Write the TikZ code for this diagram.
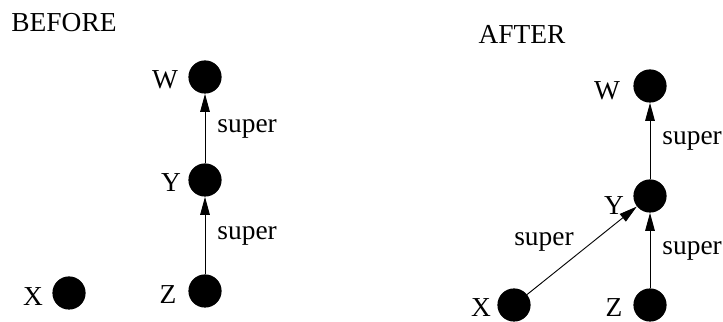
\documentclass[tikz,border=0pt]{standalone}
\usepackage{fontspec}
\setmainfont{Liberation Serif}
\usetikzlibrary{arrows.meta}
\tikzset{
	obj/.style={circle, fill=black, inner sep=0pt, minimum size=8.3mm},
	lbl/.style={inner sep=0pt, font=\fontsize{19.5}{23}\selectfont},
	sup/.style={-{Triangle[length=4.5mm,width=2.4mm]}, line width=0.65pt}
}
\begin{document}
\begin{tikzpicture} [x=0.25mm, y=-0.25mm]
	\useasboundingbox (0,0) rectangle (723,322);
	%%% Titoli
	\node[lbl] (before) at (64,23) {BEFORE};
	\node[lbl] (after) at (522,34) {AFTER};
	%%% Before
	\node[obj] (bw) at (205,77) {};
	\node[obj] (by) at (205,180) {};
	\node[obj] (bz) at (205,291) {};
	\node[obj] (bx) at (69,293) {};
	\node[lbl] (bwl) at (165,80) {W};
	\node[lbl] (byl) at (171,183) {Y};
	\node[lbl] (bzl) at (168,295) {Z};
	\node[lbl] (bxl) at (33,297) {X};
	\draw[sup] (by) -- (bw) node [pos = 0.5, right=3mm, lbl] (bs1) {super};
	\draw[sup] (bz) -- (by) node [pos = 0.5, right=3mm, lbl] (bs2) {super};
	%%% After
	\node[obj] (aw) at (650,86) {};
	\node[obj] (ay) at (650,196) {};
	\node[obj] (az) at (650,305) {};
	\node[obj] (ax) at (514,305) {};
	\node[lbl] (awl) at (607,91) {W};
	\node[lbl] (ayl) at (614,206) {Y};
	\node[lbl] (azl) at (614,308) {Z};
	\node[lbl] (axl) at (481,308) {X};
	\draw[sup] (ay) -- (aw) node [pos = 0.5, right=3mm, lbl] (as1) {super};
	\draw[sup] (az) -- (ay) node [pos = 0.5, right=3mm, lbl] (as2) {super};
	\draw[sup] (ax) -- (ay);
	\node[lbl] (as3) at (544,242) {super};
\end{tikzpicture}
\end{document}
